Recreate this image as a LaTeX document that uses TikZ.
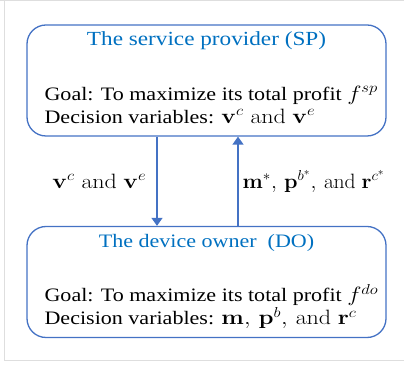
\documentclass[tikz,border=0pt]{standalone}
\usepackage{amsmath}
\usepackage[no-math]{fontspec}
\setmainfont{Liberation Serif}
\usetikzlibrary{positioning,arrows.meta}
\definecolor{boxblue}{RGB}{68,114,196}
\definecolor{headblue}{RGB}{0,112,192}
\definecolor{framegray}{RGB}{222,222,222}
% math is set a little larger than the text
\newcommand\bigmath[1]{{\fontsize{22.5}{24}\selectfont$#1$}}

\tikzset{
  agent/.style={draw=boxblue, line width=1.3pt, rounded corners=19pt,
    minimum width=359pt, minimum height=111pt},
  wide/.style={xscale=1.16, transform shape},
  headline/.style={wide, text=headblue, font=\fontsize{19}{22}\selectfont, anchor=base},
  bodyline/.style={wide, font=\fontsize{19}{22}\selectfont, anchor=base west, inner sep=0pt},
  flow/.style={draw=boxblue, line width=1.3pt, -{Triangle[length=8pt,width=11pt]}},
  flowlabel/.style={wide, font=\fontsize{19}{22}\selectfont, inner sep=0pt},
}

\begin{document}
\begin{tikzpicture}[x=1pt,y=1pt]
	\useasboundingbox (0,0) rectangle (404,366);
	% frame
	\draw[framegray, line width=1pt] (0,365) -- (404,365);
	\draw[framegray, line width=1pt] (4,365) -- (4,5) -- (404,5);
	% the two parties
	\node[agent] (sp) at (206.5,285.5) {};
	\node[agent] (do) at (206.5,84) {};
	\node[headline, font=\fontsize{20}{22}\selectfont] (sphead) at ([yshift=-21pt]sp.north) {The service provider (SP)};
	\node[bodyline] (spgoal) at ([xshift=18pt,yshift=-76pt]sp.north west) {Goal: To maximize its total profit \bigmath{f^{sp}}};
	\node[bodyline] (spdec) at ([yshift=-23pt]spgoal.base west) {Decision variables: \bigmath{\mathbf{v}^c\ \mathrm{and}\ \mathbf{v}^e}};
	\node[headline] (dohead) at ([yshift=-22pt]do.north) {The device owner\ \ (DO)};
	\node[bodyline] (dogoal) at ([xshift=18pt,yshift=-76pt]do.north west) {Goal: To maximize its total profit \bigmath{f^{do}}};
	\node[bodyline] (dodec) at ([yshift=-23pt]dogoal.base west) {Decision variables: \bigmath{\mathbf{m},\,\mathbf{p}^b,\,\mathrm{and}\ \mathbf{r}^c}};
	% interaction
	\coordinate (downx) at (157,0);
	\coordinate (upx) at (238,0);
	\draw[flow] (sp.south -| downx) -- (do.north -| downx)
		node[midway, left=10pt, flowlabel] (sptodo) {\bigmath{\mathbf{v}^c\ \mathrm{and}\ \mathbf{v}^e}};
	\draw[flow] (do.north -| upx) -- (sp.south -| upx)
		node[midway, right=4pt, flowlabel, xscale=0.9] (dotosp) {\bigmath{\mathbf{m}^*,\,\mathbf{p}^{b^*},\,\mathrm{and}\ \mathbf{r}^{c^*}}};
\end{tikzpicture}
\end{document}
